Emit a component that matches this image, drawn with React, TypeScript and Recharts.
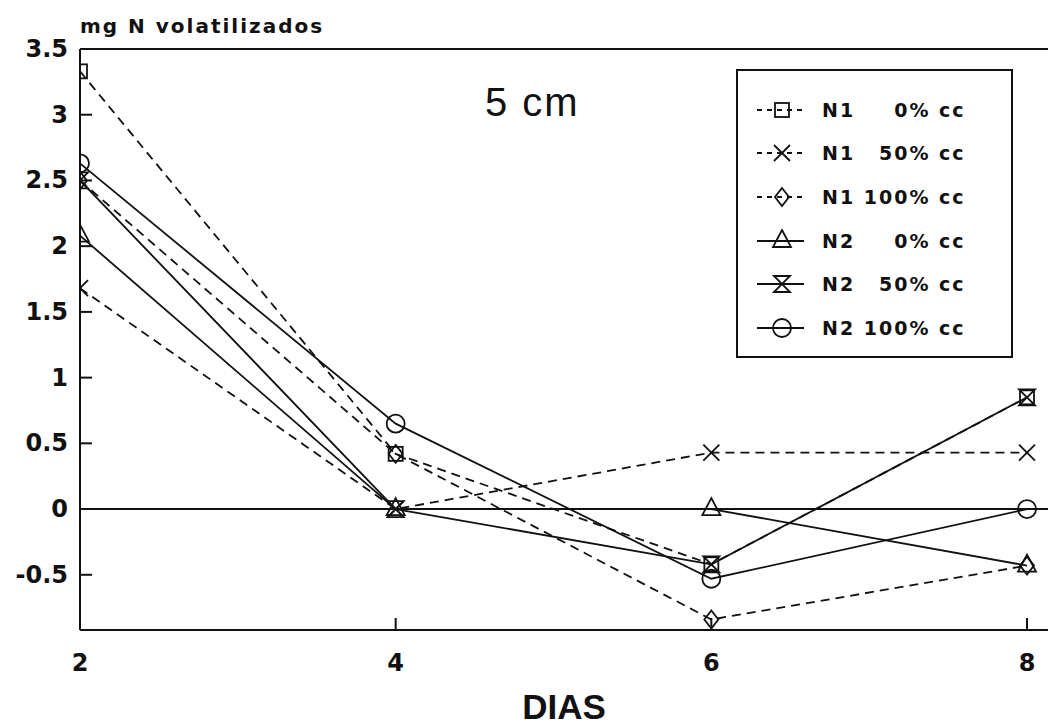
import React from "react";
import {
  LineChart,
  Line,
  XAxis,
  YAxis,
  ReferenceLine,
  Legend,
  Label,
} from "recharts";

// Dias de muestreo
const days = [2, 4, 6, 8];

// mg N volatilizados por tratamiento
const n1_0 = [3.33, 0.42, -0.42, 0.85];
const n1_50 = [1.68, 0, 0.43, 0.43];
const n1_100 = [2.5, 0.42, -0.84, -0.43];
const n2_0 = [2.08, 0, 0, -0.43];
const n2_50 = [2.5, 0, -0.42, 0.85];
const n2_100 = [2.63, 0.65, -0.53, 0];

const xTicks = [2, 4, 6, 8];
const yTicks = [-0.5, 0, 0.5, 1, 1.5, 2, 2.5, 3, 3.5];

const labels = [
  "N1 \u2007\u20070% cc",
  "N1 \u200750% cc",
  "N1 100% cc",
  "N2 \u2007\u20070% cc",
  "N2 \u200750% cc",
  "N2 100% cc",
];

const data = days.map((d, i) => ({
  day: d,
  n1_0: n1_0[i],
  n1_50: n1_50[i],
  n1_100: n1_100[i],
  n2_0: n2_0[i],
  n2_50: n2_50[i],
  n2_100: n2_100[i],
}));

type Shape = "square" | "cross" | "diamond" | "triangle" | "hourglass" | "circle";

const SERIES: { key: string; shape: Shape; dashed: boolean }[] = [
  { key: "n1_0", shape: "square", dashed: true },
  { key: "n1_50", shape: "cross", dashed: true },
  { key: "n1_100", shape: "diamond", dashed: true },
  { key: "n2_0", shape: "triangle", dashed: false },
  { key: "n2_50", shape: "hourglass", dashed: false },
  { key: "n2_100", shape: "circle", dashed: false },
];

const FONT = "'DejaVu Sans', 'Liberation Sans', Arial, sans-serif";
const INK = "#111";

const Marker = ({ shape, cx, cy }: { shape: Shape; cx: number; cy: number }) => {
  const s = { stroke: INK, strokeWidth: 1.8, fill: "none" };
  switch (shape) {
    case "square":
      return <rect x={cx - 7} y={cy - 7} width={14} height={14} {...s} />;
    case "cross":
      return (
        <g {...s}>
          <line x1={cx - 8} y1={cy - 8} x2={cx + 8} y2={cy + 8} />
          <line x1={cx - 8} y1={cy + 8} x2={cx + 8} y2={cy - 8} />
        </g>
      );
    case "diamond":
      return <polygon points={`${cx},${cy - 9} ${cx + 7},${cy} ${cx},${cy + 9} ${cx - 7},${cy}`} {...s} />;
    case "triangle":
      return <polygon points={`${cx},${cy - 11} ${cx + 9},${cy + 6} ${cx - 9},${cy + 6}`} {...s} />;
    case "hourglass":
      return (
        <polygon
          points={`${cx - 8},${cy - 8} ${cx + 8},${cy - 8} ${cx - 8},${cy + 8} ${cx + 8},${cy + 8}`}
          {...s}
        />
      );
    default:
      return <circle cx={cx} cy={cy} r={9} {...s} />;
  }
};

const YTick = (props: any) => {
  const { x, y, payload } = props;
  return (
    <g>
      {payload.value !== 3.5 && payload.value !== 0 && (
        <line x1={x + 12} x2={x + 24} y1={y} y2={y} stroke={INK} strokeWidth={2} />
      )}
      <text
        x={x}
        y={y}
        textAnchor="end"
        dominantBaseline="central"
        fontFamily={FONT}
        fontWeight="bold"
        fontSize={24}
        fill={INK}
      >
        {payload.value}
      </text>
    </g>
  );
};

const XTick = (props: any) => {
  const { x, y, payload } = props;
  return (
    <g>
      {payload.value !== 2 && (
        <line x1={x} x2={x} y1={y - 33} y2={y - 45} stroke={INK} strokeWidth={2} />
      )}
      <text
        x={x}
        y={y}
        textAnchor="middle"
        dominantBaseline="central"
        fontFamily={FONT}
        fontWeight="bold"
        fontSize={24}
        fill={INK}
      >
        {payload.value}
      </text>
    </g>
  );
};

const LegendBox = () => (
  <div
    style={{
      boxSizing: "border-box",
      width: 277,
      height: 289,
      border: `2px solid ${INK}`,
      background: "white",
      paddingTop: 17,
    }}
  >
    {SERIES.map((s, i) => (
      <div key={s.key} style={{ display: "flex", alignItems: "center", height: 43.6 }}>
        <svg width={84} height={24} style={{ flex: "none" }}>
          <line
            x1={19}
            x2={66}
            y1={12}
            y2={12}
            stroke={INK}
            strokeWidth={1.8}
            strokeDasharray={s.dashed ? "5 5" : undefined}
          />
          <Marker shape={s.shape} cx={44} cy={12} />
        </svg>
        <span
          style={{
            fontFamily: FONT,
            fontWeight: "bold",
            fontSize: 19,
            letterSpacing: 2,
            whiteSpace: "pre",
            color: INK,
          }}
        >
          {labels[i]}
        </span>
      </div>
    ))}
  </div>
);

export default function App() {
  return (
    <div style={{ position: "relative", width: 1048, height: 727, background: "white" }}>
      <style>{`body{margin:0;background:white}`}</style>
      <LineChart width={1048} height={727} data={data} margin={{ top: 49, right: 0, bottom: 0, left: 0 }}>
        <XAxis
          dataKey="day"
          type="number"
          domain={[2, 8.133]}
          ticks={xTicks}
          allowDataOverflow
          height={97}
          tickSize={0}
          tickMargin={33}
          axisLine={{ stroke: INK, strokeWidth: 2 }}
          tick={<XTick />}
        >
          <Label
            content={({ viewBox }: any) => (
              <text
                x={viewBox.x + viewBox.width / 2}
                y={viewBox.y + 89}
                textAnchor="middle"
                fontFamily="'Liberation Sans', Arial, sans-serif"
                fontWeight="bold"
                fontSize={35}
                fill={INK}
              >
                DIAS
              </text>
            )}
          />
        </XAxis>
        <YAxis
          type="number"
          domain={[-0.92, 3.5]}
          ticks={yTicks}
          allowDataOverflow
          width={80}
          tickSize={0}
          tickMargin={12}
          axisLine={{ stroke: INK, strokeWidth: 2 }}
          tick={<YTick />}
        >
          <Label
            content={({ viewBox }: any) => (
              <text
                x={viewBox.x + viewBox.width}
                y={viewBox.y - 16}
                textAnchor="start"
                fontFamily={FONT}
                fontWeight="bold"
                fontSize={20}
                letterSpacing={2}
                fill={INK}
              >
                mg N volatilizados
              </text>
            )}
          />
        </YAxis>
        <ReferenceLine y={3.5} stroke={INK} strokeWidth={2} />
        <ReferenceLine y={0} stroke={INK} strokeWidth={2} />
        {SERIES.map((s) => (
          <Line
            key={s.key}
            dataKey={s.key}
            stroke={INK}
            strokeWidth={1.8}
            strokeDasharray={s.dashed ? "9 6" : undefined}
            isAnimationActive={false}
            activeDot={false}
            dot={(p: any) => <Marker key={`${s.key}-${p.index}`} shape={s.shape} cx={p.cx} cy={p.cy} />}
          />
        ))}
        <Legend
          layout="horizontal"
          verticalAlign="middle"
          align="center"
          content={() => <LegendBox />}
          wrapperStyle={{ left: 736, top: 69, width: 277, height: 289 }}
        />
      </LineChart>
      <div
        style={{
          position: "absolute",
          left: 485,
          top: 78,
          fontFamily: "'Liberation Sans', Arial, sans-serif",
          fontSize: 40,
          letterSpacing: 2,
          color: INK,
          lineHeight: "48px",
          whiteSpace: "pre",
        }}
      >
        5 cm
      </div>
    </div>
  );
}
